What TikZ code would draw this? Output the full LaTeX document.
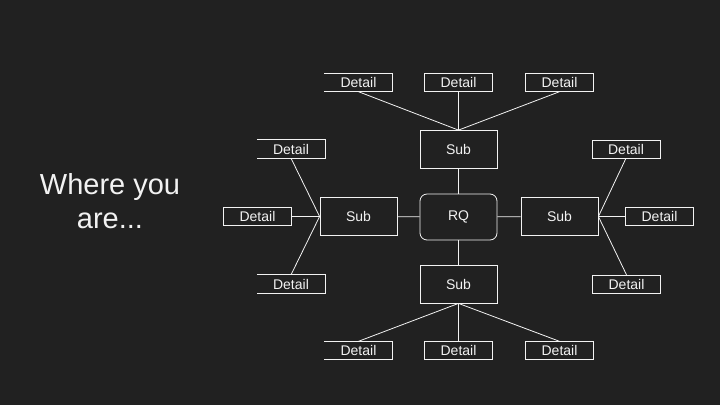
\documentclass[tikz,border=0pt]{standalone}
\usepackage{fontspec}
\setmainfont{Liberation Sans}
\usetikzlibrary{positioning}
\usetikzlibrary{calc}

\begin{document}
\begin{tikzpicture}[x=1pt, y=-1pt]
    \colorlet{slate}{black!87}
    \colorlet{ink}{white!95!black}

    \tikzset{
        sub box/.style={
            draw=ink, text=ink, rectangle,
            minimum width=77, minimum height=38,
            inner sep=0pt, font=\fontsize{14}{16}\selectfont,
        },
        rq box/.style={
            sub box, rounded corners=7, minimum height=46,
        },
        detail box/.style={
            draw=ink, text=ink, rectangle,
            minimum width=68, minimum height=18,
            inner sep=0pt, font=\fontsize{14}{16}\selectfont,
        },
        open box/.style={
            detail box, draw=none,
        },
        link/.style={ink, line width=0.8},
    }

    \fill[slate] (0, 0) rectangle (720, 405);
    \useasboundingbox (0, 0) rectangle (720, 405);

    \node[text=ink, align=center, font=\fontsize{29}{34}\selectfont]
        (where) at (110, 201) {Where you\\are...};

    % centre and the four subs
    \node[rq box, line width=0.8] (rq) at (458.5, 217) {RQ};
    \node[sub box, line width=0.8] (sub-t) at (458.5, 149.5) {Sub};
    \node[sub box, line width=0.8] (sub-b) at (458.5, 284) {Sub};
    \node[sub box, line width=0.8] (sub-l) at (358.5, 216.5) {Sub};
    \node[sub box, line width=0.8] (sub-r) at (559.5, 216.5) {Sub};

    % details
    \node[open box] (det-tl) at (358.5, 82.5) {Detail};
    \node[detail box] (det-tc) at (458.5, 82.5) {Detail};
    \node[detail box] (det-tr) at (559.5, 82.5) {Detail};
    \node[open box] (det-lu) at (291, 149) {Detail};
    \node[detail box] (det-l) at (257.5, 216.5) {Detail};
    \node[open box] (det-ld) at (291, 284) {Detail};
    \node[detail box] (det-ru) at (626, 149) {Detail};
    \node[detail box] (det-r) at (659.5, 216.5) {Detail};
    \node[detail box] (det-rd) at (626.5, 284) {Detail};
    \node[open box] (det-bl) at (358.5, 350.5) {Detail};
    \node[detail box] (det-bc) at (458.5, 350.5) {Detail};
    \node[detail box] (det-br) at (559.5, 350.5) {Detail};

    \foreach \n in {det-tl, det-lu, det-ld, det-bl}
        \draw[link] (\n.north west) -- (\n.north east)
            -- (\n.south east) -- (\n.south west);

    % links
    \draw[link] (rq) -- (sub-t);
    \draw[link] (rq) -- (sub-b);
    \draw[link] (rq) -- (sub-l);
    \draw[link] (rq) -- (sub-r);

    \draw[link] (det-tl.south) -- (sub-t.north);
    \draw[link] (det-tc.south) -- (sub-t.north);
    \draw[link] (det-tr.south) -- (sub-t.north);

    \draw[link] (det-bl.north) -- (sub-b.south);
    \draw[link] (det-bc.north) -- (sub-b.south);
    \draw[link] (det-br.north) -- (sub-b.south);

    \draw[link] (det-lu.south) -- (sub-l.west);
    \draw[link] (det-l.east) -- (sub-l.west);
    \draw[link] (det-ld.north) -- (sub-l.west);

    \draw[link] (det-ru.south) -- (sub-r.east);
    \draw[link] (det-r.west) -- (sub-r.east);
    \draw[link] (det-rd.north) -- (sub-r.east);
\end{tikzpicture}
\end{document}
